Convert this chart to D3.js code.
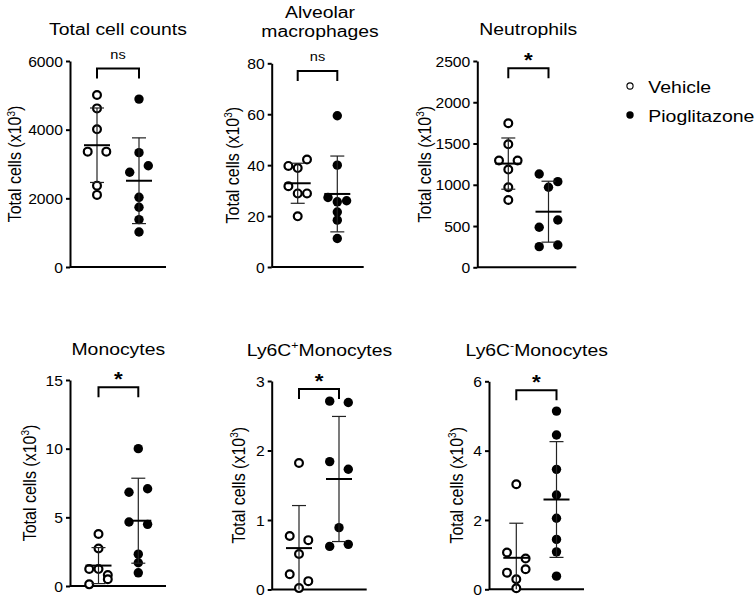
<!DOCTYPE html>
<html><head><meta charset="utf-8">
<script src="https://cdn.jsdelivr.net/npm/d3@7"></script>
<style>body{margin:0;background:#fff} svg{display:block}</style>
</head><body>
<svg id="c" width="755" height="600"></svg>
<script>
// ---------------- DATA ----------------
const groups = ["Vehicle", "Pioglitazone"];

const titleMain = ["Total cell counts", "Alveolar macrophages", "Neutrophils", "Monocytes", "Ly6CMonocytes", "Ly6CMonocytes"];
const titleSup  = ["", "", "", "", "+", "-"];
const yLabel = "Total cells (x10";
const yLabelSup = "3";

const yMax = [6000, 80, 2500, 15, 3, 6];
const tickLabels = [
  [0, 2000, 4000, 6000],
  [0, 20, 40, 60, 80],
  [0, 500, 1000, 1500, 2000, 2500],
  [0, 5, 10, 15],
  [0, 1, 2, 3],
  [0, 2, 4, 6]
];
const significance = ["ns", "ns", "*", "*", "*", "*"];

const totalVehicle = [5010, 4620, 4010, 3360, 3360, 2370, 2100];
const totalPio     = [4890, 3330, 2760, 2950, 2030, 1740, 1380, 1020];
const amVehicle    = [39.7, 42.2, 38.9, 31.7, 28.9, 28.9, 19.9];
const amPio        = [59.4, 40.0, 27.3, 25.6, 26.0, 21.6, 18.4, 11.2];
const neuVehicle   = [1745, 1491, 1295, 1295, 1185, 970, 816];
const neuPio       = [1131, 1038, 970, 485, 573, 250, 270];
const monoVehicle  = [3.79, 2.73, 1.24, 1.24, 0.80, 0.12, 0.49];
const monoPio      = [10.0, 6.83, 7.08, 4.66, 4.49, 2.32, 1.69, 0.96];
const ly6cPosVehicle = [1.82, 0.77, 0.71, 0.51, 0.22, 0.12, 0.02];
const ly6cPosPio     = [2.71, 2.69, 1.84, 1.73, 0.89, 0.62, 0.65];
const ly6cNegVehicle = [3.03, 1.06, 0.89, 0.48, 0.58, 0.29, 0.03];
const ly6cNegPio     = [5.14, 4.45, 3.46, 2.72, 2.05, 1.44, 1.08, 0.38];

const seriesVehicle = [totalVehicle, amVehicle, neuVehicle, monoVehicle, ly6cPosVehicle, ly6cNegVehicle];
const seriesPio     = [totalPio, amPio, neuPio, monoPio, ly6cPosPio, ly6cNegPio];

// ---------------- LAYOUT ----------------
const layout = [
  {ax: 70,    yTop: 61,    yBot: 267,   xLen: 96, vx: 97,    px: 139,   tx: 118,   ty: [35],       lx: 15,    br: 7.5},
  {ax: 271.7, yTop: 63.3,  yBot: 267,   xLen: 92, vx: 297.7, px: 337.3, tx: 320,   ty: [17.6, 37.2], lx: 232.3, br: 7.7},
  {ax: 477.3, yTop: 61,    yBot: 267.3, xLen: 99, vx: 508.3, px: 548.5, tx: 528.3, ty: [35],       lx: 424.5, br: 7.3},
  {ax: 70,    yTop: 380,   yBot: 586,   xLen: 96, vx: 98.5,  px: 138.3, tx: 118.3, ty: [355],      lx: 29.3,  br: 7.3},
  {ax: 271.7, yTop: 381,   yBot: 589.5, xLen: 95, vx: 299,   px: 339,   tx: 319.5, ty: [355.5],    lx: 238.3, br: 8},
  {ax: 489,   yTop: 381.3, yBot: 589.3, xLen: 95, vx: 516.3, px: 556.5, tx: 536.7, ty: [356],      lx: 456.7, br: 9}
];
const SX = 1.12;          // horizontal text stretch
const FONT = "'Liberation Sans', Arial, Helvetica, sans-serif";
const SLOT = 9.3;
const BIN_PX = 7.9;

const svg = d3.select("#c");

function swarm(values, y) {
  const idx = values.map((v, i) => i).sort((a, b) => values[b] - values[a] || a - b);
  const bins = [];
  idx.forEach(i => {
    const last = bins[bins.length - 1];
    if (last && Math.abs(y(values[last[0]]) - y(values[i])) < BIN_PX) last.push(i);
    else bins.push([i]);
  });
  const slot = new Array(values.length).fill(0);
  bins.forEach(b => {
    b.sort((a, c) => a - c);
    const n = b.length;
    b.forEach((i, k) => slot[i] = n === 2 ? (k === 0 ? -1 : 1) : k - (n - 1) / 2);
  });
  return slot;
}

layout.forEach((L, p) => {
  const g = svg.append("g");
  const y = d3.scaleLinear().domain([0, yMax[p]]).range([L.yBot, L.yTop]);
  const x = d3.scalePoint().domain(groups).range([L.vx, L.px]);

  // y axis
  const ax = g.append("g").attr("transform", `translate(${L.ax},0)`)
    .call(d3.axisLeft(y).tickValues(tickLabels[p]).tickSize(4).tickSizeOuter(0).tickPadding(3).tickFormat(d3.format("d")));
  ax.select(".domain").attr("stroke", "#000").attr("stroke-width", 2);
  ax.selectAll(".tick line").attr("stroke", "#000").attr("stroke-width", 2);
  ax.selectAll(".tick text")
    .attr("font-family", FONT).attr("font-size", 14).attr("fill", "#000")
    .attr("x", -7 / SX).attr("dy", "0.36em")
    .attr("transform", `scale(${SX},1)`);
  ax.attr("font-family", null).attr("font-size", null);

  // x axis baseline
  g.append("line")
    .attr("x1", L.ax).attr("x2", L.ax + L.xLen)
    .attr("y1", L.yBot).attr("y2", L.yBot)
    .attr("stroke", "#000").attr("stroke-width", 2);

  // y label
  const yl = g.append("text")
    .attr("transform", `translate(${L.lx},${(L.yTop + L.yBot) / 2}) scale(${SX},1) rotate(-90)`)
    .attr("text-anchor", "middle").attr("dy", "0.36em")
    .attr("font-family", FONT).attr("font-size", 16).attr("fill", "#000");
  yl.append("tspan").text(yLabel);
  yl.append("tspan").attr("font-size", 10).attr("dy", -6).text(yLabelSup);
  yl.append("tspan").attr("font-size", 16).attr("dy", 6).text(")");

  // title
  if (L.ty.length === 2) {
    const words = titleMain[p].split(" ");
    [words[0], words.slice(1).join(" ")].forEach((w, k) => {
      g.append("text")
        .attr("transform", `translate(${L.tx},${L.ty[k]}) scale(${SX},1)`)
        .attr("text-anchor", "middle")
        .attr("font-family", FONT).attr("font-size", 17.3).attr("fill", "#000")
        .text(w);
    });
  } else {
    const tt = g.append("text")
      .attr("transform", `translate(${L.tx},${L.ty[0]}) scale(${SX},1)`)
      .attr("text-anchor", "middle")
      .attr("font-family", FONT).attr("font-size", 17.3).attr("fill", "#000");
    if (titleSup[p]) {
      tt.append("tspan").text(titleMain[p].slice(0, 4));
      tt.append("tspan").attr("font-size", 11).attr("dy", -7).text(titleSup[p]);
      tt.append("tspan").attr("font-size", 17.3).attr("dy", 7).text(titleMain[p].slice(4));
    } else {
      tt.text(titleMain[p]);
    }
  }

  // points + mean/SD
  const sets = [seriesVehicle[p], seriesPio[p]];
  sets.forEach((vals, gi) => {
    const cx0 = x(groups[gi]);
    const slots = swarm(vals, y);
    g.append("g").selectAll("circle").data(vals).join("circle")
      .attr("cx", (d, i) => cx0 + slots[i] * SLOT)
      .attr("cy", d => y(d))
      .attr("r", gi === 0 ? 3.9 : 4.7)
      .attr("fill", gi === 0 ? "#fff" : "#000")
      .attr("stroke", "#000")
      .attr("stroke-width", gi === 0 ? 2.2 : 0);
  });
  sets.forEach((vals, gi) => {
    const cx0 = x(groups[gi]);
    const m = d3.mean(vals), s = d3.deviation(vals);
    const lo = Math.max(0, m - s), hi = m + s;
    const eb = g.append("g").attr("stroke", "#222").attr("stroke-width", 1.2);
    eb.append("line").attr("x1", cx0).attr("x2", cx0).attr("y1", y(lo)).attr("y2", y(hi));
    eb.append("line").attr("x1", cx0 - 7).attr("x2", cx0 + 7).attr("y1", y(hi)).attr("y2", y(hi));
    if (m - s > 0) eb.append("line").attr("x1", cx0 - 7).attr("x2", cx0 + 7).attr("y1", y(lo)).attr("y2", y(lo));
    g.append("line").attr("x1", cx0 - 13).attr("x2", cx0 + 13)
      .attr("y1", y(m)).attr("y2", y(m)).attr("stroke", "#000").attr("stroke-width", 2);
  });

  // significance bracket
  const by = L.yTop + L.br;
  const xa = x(groups[0]), xb = x(groups[1]);
  g.append("path")
    .attr("d", `M${xa},${by + 10}V${by}H${xb}V${by + 10}`)
    .attr("fill", "none").attr("stroke", "#000").attr("stroke-width", 2);
  const sig = significance[p];
  g.append("text")
    .attr("transform", `translate(${(xa + xb) / 2},${sig === "*" ? by - 1.5 : by - 10}) scale(${SX},1)`)
    .attr("text-anchor", "middle")
    .attr("font-family", FONT)
    .attr("font-size", sig === "*" ? 20 : 13)
    .attr("font-weight", sig === "*" ? "bold" : "normal")
    .attr("fill", "#000")
    .text(sig);
});

// legend
const legend = svg.append("g");
groups.forEach((name, i) => {
  const ly = 86 + i * 29;
  legend.append("circle").attr("cx", 630).attr("cy", ly)
    .attr("r", i === 0 ? 3.1 : 3.7)
    .attr("fill", i === 0 ? "#fff" : "#000")
    .attr("stroke", "#000").attr("stroke-width", i === 0 ? 1.1 : 0);
  legend.append("text")
    .attr("transform", `translate(648.3,${ly + 6.7}) scale(${SX},1)`)
    .attr("font-family", FONT).attr("font-size", 17.4).attr("fill", "#000")
    .text(name);
});
</script>
</body></html>
